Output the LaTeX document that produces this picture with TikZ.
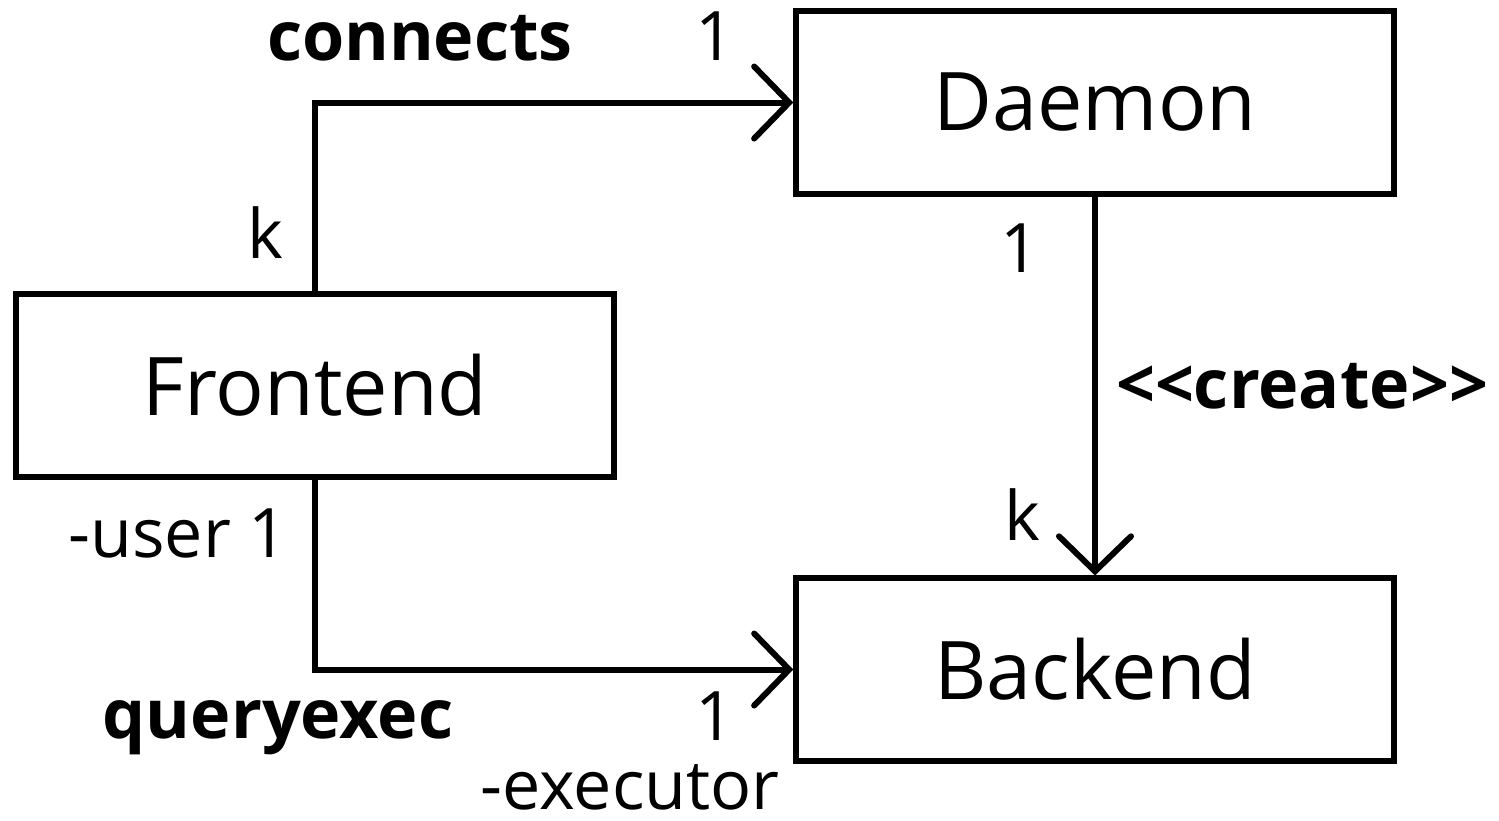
\documentclass[tikz,border=0pt]{standalone}
\usepackage{fontspec}
\setmainfont{Open Sans}
\usetikzlibrary{arrows.meta}
\begin{document}
\begin{tikzpicture}[x=0.01cm,y=-0.01cm]
\tikzstyle{every node}+=[inner sep=0pt]
\tikzstyle{cls}=[draw,line width=1.7pt,minimum width=5.97cm,minimum height=1.82cm,font=\fontsize{23}{27}\selectfont]
\tikzstyle{lbl}=[anchor=base,font=\fontsize{19.4}{23}\selectfont]
\tikzstyle{assocname}=[anchor=base,font=\fontsize{19.4}{23}\selectfont\bfseries]
\tikzstyle{assoc}=[line width=1.7pt,-{Straight Barb[length=0.35cm,width=0.72cm,line cap=round]}]
\useasboundingbox (0,0) rectangle (1499,820);
\node[cls] (daemon) at (1095,102.5) {Daemon};
\node[cls] (frontend) at (315,385.5) {Frontend};
\node[cls] (backend) at (1095,669.5) {Backend};
\draw[assoc] (frontend.north) |- (daemon.west);
\draw[assoc] (daemon.south) -- (backend.north);
\draw[assoc] (frontend.south) |- (backend.west);
\node[assocname] (connects) at (420,60) {connects};
\node[lbl] (connectsdaemon) at (715,60) {1};
\node[lbl] (connectsfront) at (265,258) {k};
\node[lbl] (createdaemon) at (1020,272) {1};
\node[assocname] (create) at (1302,408) {<\kern0pt<create>\kern0pt>};
\node[lbl] (createback) at (1022,540) {k};
\node[lbl] (user) at (178,557) {-user 1};
\node[assocname] (queryexec) at (278,738) {queryexec};
\node[lbl] (execone) at (715,740) {1};
\node[lbl] (executor) at (630,809) {-executor};
\end{tikzpicture}
\end{document}
